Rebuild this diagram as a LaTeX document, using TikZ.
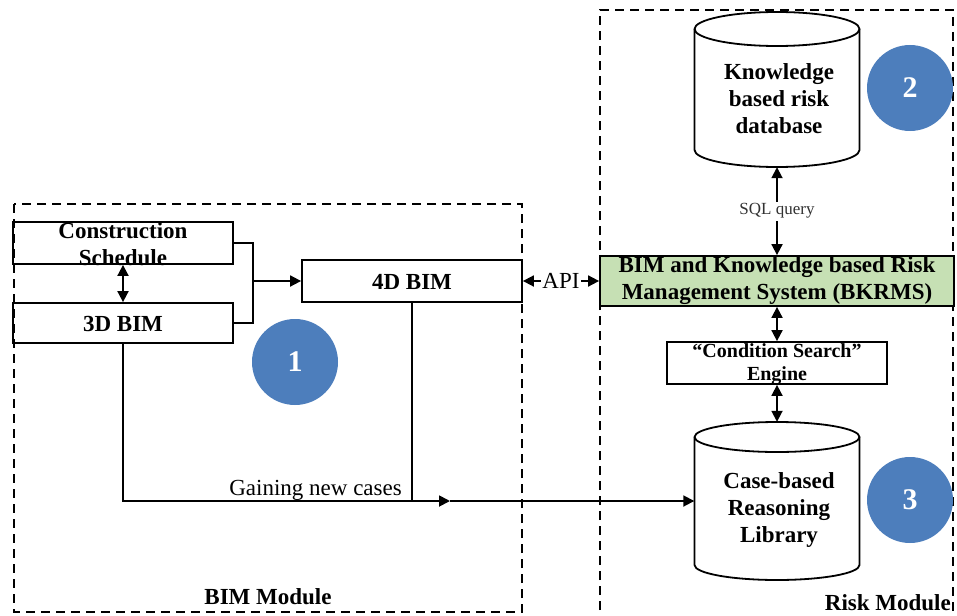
\documentclass[tikz,border=0pt]{standalone}
\usepackage{fontspec}
\setmainfont{Liberation Serif}
\usetikzlibrary{arrows.meta}
\definecolor{discblue}{RGB}{77,126,188}
\definecolor{sysgreen}{RGB}{198,224,180}
\definecolor{labelgray}{RGB}{50,50,50}

% cylinder outline: centre x, top y, bottom y, end radius (page units, y downwards)
\newcommand\drawdrum[4]{%
  \draw[link, fill=white] ({#1-82.5},{-#2-#4}) -- ({#1-82.5},{-#3+#4})
    arc[start angle=180, end angle=360, x radius=82.5, y radius=#4]
    -- ({#1+82.5},{-#2-#4})
    arc[start angle=0, end angle=180, x radius=82.5, y radius=#4] -- cycle;
  \draw[link] ({#1-82.5},{-#2-#4})
    arc[start angle=180, end angle=360, x radius=82.5, y radius=#4];
}

\begin{document}
\begin{tikzpicture}[x=1pt, y=1pt,
  every node/.style={font=\fontsize{23}{27}\selectfont},
  link/.style={line width=1.8pt},
  box/.style={draw, line width=1.8pt, minimum width=220pt, minimum height=42pt, inner sep=0pt},
  btxt/.style={font=\fontsize{23}{27}\selectfont\bfseries, align=center, inner sep=0pt},
  arr/.style={link, -{Triangle[length=11pt, width=11pt]}},
  dbl/.style={link, {Triangle[length=11pt, width=11pt]}-{Triangle[length=11pt, width=11pt]}},
  module/.style={line width=1.7pt, dash pattern=on 9pt off 6pt},
  disc/.style={circle, fill=discblue, minimum size=86pt, inner sep=0pt, text=white,
    font=\fontsize{30}{30}\selectfont\bfseries},
  drum/.style={minimum width=165pt, inner sep=0pt}
]
\useasboundingbox (0,0) rectangle (957,-615);

% module frames
\draw[module] (14,-204) rectangle (522,-612);
\draw[module] (600,-625) -- (600,-10) -- (953,-10) -- (953,-625);

% BIM module blocks
\node[box] (cs) at (123,-243) {};
\node[btxt] (cs-t) at (123,-244) {Construction\\Schedule};
\node[box, minimum height=40pt] (b3) at (123,-323) {};
\node[btxt] (b3-t) at (123,-324) {3D BIM};
\node[box] (b4) at (412,-281) {};
\node[btxt] (b4-t) at (412,-282) {4D BIM};

% risk module blocks
\node[box, fill=sysgreen, minimum width=354pt, minimum height=50pt] (bk) at (777,-281) {};
\node[btxt] (bk-t) at (777,-281) {BIM and Knowledge based Risk\\Management System (BKRMS)};
\node[box] (eng) at (777,-363) {};
\node[btxt, font=\fontsize{20}{23}\selectfont\bfseries] (eng-t) at (777,-364) {“Condition Search”\\Engine};

\drawdrum{777}{12}{167}{17}
\node[drum, minimum height=155pt] (kdb) at (777,-89.5) {};
\node[btxt] (kdb-t) at (779,-99) {Knowledge\\based risk\\database};

\drawdrum{777}{422}{580}{15}
\node[drum, minimum height=158pt] (cbr) at (777,-501) {};
\node[btxt] (cbr-t) at (779,-510) {Case-based\\Reasoning\\Library};

% numbered discs
\node[disc] (c1) at (295,-362) {1};
\node[disc] (c2) at (910,-88) {2};
\node[disc] (c3) at (910,-500) {3};

% connectors inside the BIM module
\draw[dbl] (cs.south) -- (b3.north);
\coordinate (jn) at (253,-281);
\draw[link] (cs.east) -| (jn) |- (b3.east);
\draw[arr] (jn) -- (b4.west);

% API link
\draw[dbl] (b4.east) -- (bk.west)
  node[midway, fill=white, inner sep=1pt] (api) {API};

% risk module links
\draw[dbl] (kdb.south) -- (bk.north)
  node[midway, fill=white, inner sep=2pt, text=labelgray,
       font=\fontsize{17}{17}\selectfont] (sql) {SQL query};
\draw[dbl] (bk.south) -- (eng.north);
\draw[dbl] (eng.south) -- (cbr.north);

% new cases fed into the case library
\coordinate (ga) at (450,-501);
\draw[arr] (b3.south) |- (ga);
\draw[arr] (ga) -- (cbr.west);
\draw[link] (b4.south) -- (b4.south |- ga);
\node[anchor=base east, inner sep=0pt] (gain) at (402,-495) {Gaining new cases};

% module captions
\node[btxt, anchor=base] (bimmod) at (268,-604) {BIM Module};
\node[btxt, anchor=base east] (riskmod) at (951,-610) {Risk Module};
\end{tikzpicture}
\end{document}
